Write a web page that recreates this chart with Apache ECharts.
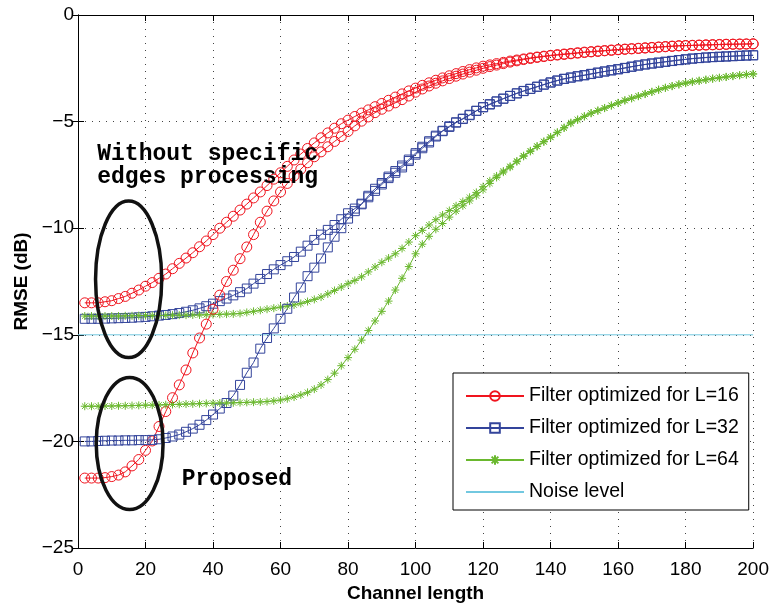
<!DOCTYPE html>
<html>
<head>
<meta charset="utf-8">
<script src="https://cdn.jsdelivr.net/npm/echarts@6.0.0/dist/echarts.min.js"></script>
<style>
html, body { margin: 0; padding: 0; background: #fff; }
#chart { width: 772px; height: 608px; }
</style>
</head>
<body>
<div id="chart"></div>
<script>
// channel lengths where the curves were sampled (every 2 taps)
var channelLength = [];
for (var i = 1; i <= 100; i++) {
    channelLength.push(2 * i);
}

// RMSE (dB), without specific edges processing
var l16Without = [
    -13.5, -13.5, -13.5, -13.45, -13.4, -13.3, -13.2, -13.05, -12.9, -12.72,
    -12.55, -12.35, -12.15, -11.9, -11.65, -11.4, -11.15, -10.87, -10.6, -10.3,
    -10.0, -9.72, -9.44, -9.15, -8.87, -8.58, -8.3, -8.0, -7.7, -7.4,
    -7.1, -6.8, -6.52, -6.26, -6.0, -5.76, -5.53, -5.31, -5.1, -4.93,
    -4.76, -4.6, -4.45, -4.3, -4.15, -4.0, -3.85, -3.7, -3.56, -3.43,
    -3.3, -3.18, -3.06, -2.95, -2.85, -2.75, -2.65, -2.56, -2.48, -2.4,
    -2.34, -2.28, -2.22, -2.16, -2.11, -2.06, -2.01, -1.97, -1.93, -1.89,
    -1.86, -1.83, -1.8, -1.77, -1.74, -1.72, -1.69, -1.67, -1.64, -1.62,
    -1.6, -1.58, -1.56, -1.54, -1.52, -1.5, -1.48, -1.46, -1.44, -1.43,
    -1.42, -1.41, -1.4, -1.39, -1.38, -1.37, -1.37, -1.36, -1.36, -1.35
];
var l32Without = [
    -14.25, -14.25, -14.25, -14.24, -14.23, -14.22, -14.21, -14.2, -14.18, -14.16,
    -14.13, -14.1, -14.07, -14.03, -13.98, -13.92, -13.85, -13.76, -13.66, -13.54,
    -13.42, -13.3, -13.15, -13.0, -12.83, -12.6, -12.38, -12.15, -11.93, -11.73,
    -11.55, -11.35, -11.1, -10.82, -10.55, -10.3, -10.08, -9.85, -9.58, -9.3,
    -9.08, -8.85, -8.55, -8.25, -7.95, -7.65, -7.4, -7.15, -6.85, -6.55,
    -6.25, -5.98, -5.7, -5.45, -5.25, -5.05, -4.88, -4.7, -4.5, -4.33,
    -4.2, -4.06, -3.93, -3.8, -3.68, -3.57, -3.47, -3.37, -3.27, -3.17,
    -3.08, -3.0, -2.94, -2.88, -2.83, -2.77, -2.71, -2.65, -2.6, -2.55,
    -2.49, -2.43, -2.37, -2.32, -2.28, -2.24, -2.2, -2.16, -2.12, -2.08,
    -2.05, -2.02, -2.0, -1.98, -1.96, -1.95, -1.93, -1.92, -1.9, -1.89
];
var l64Without = [
    -14.12, -14.12, -14.12, -14.12, -14.12, -14.12, -14.11, -14.11, -14.1, -14.1,
    -14.1, -14.09, -14.09, -14.08, -14.08, -14.08, -14.07, -14.07, -14.06, -14.05,
    -14.04, -14.03, -14.02, -14.0, -13.95, -13.9, -13.85, -13.8, -13.75, -13.7,
    -13.65, -13.6, -13.53, -13.44, -13.34, -13.23, -13.08, -12.92, -12.76, -12.6,
    -12.45, -12.28, -12.05, -11.82, -11.6, -11.4, -11.2, -10.95, -10.65, -10.35,
    -10.1, -9.85, -9.6, -9.38, -9.17, -8.95, -8.75, -8.55, -8.32, -8.05,
    -7.78, -7.55, -7.32, -7.1, -6.85, -6.6, -6.37, -6.15, -5.93, -5.72,
    -5.5, -5.28, -5.05, -4.9, -4.75, -4.6, -4.48, -4.36, -4.24, -4.12,
    -4.0, -3.9, -3.8, -3.7, -3.6, -3.5, -3.41, -3.33, -3.25, -3.19,
    -3.13, -3.08, -3.03, -2.98, -2.94, -2.9, -2.86, -2.82, -2.79, -2.76
];

// RMSE (dB), proposed method
var l16Proposed = [
    -21.72, -21.72, -21.72, -21.7, -21.65, -21.58, -21.43, -21.15, -20.85, -20.42,
    -19.98, -19.3, -18.6, -17.95, -17.35, -16.65, -15.85, -15.15, -14.5, -13.8,
    -13.14, -12.5, -11.97, -11.43, -10.88, -10.3, -9.72, -9.2, -8.72, -8.3,
    -7.9, -7.55, -7.23, -6.93, -6.65, -6.42, -6.18, -5.93, -5.7, -5.46,
    -5.2, -4.98, -4.78, -4.58, -4.42, -4.27, -4.12, -3.97, -3.8, -3.62,
    -3.47, -3.33, -3.2, -3.09, -2.98, -2.87, -2.77, -2.68, -2.59, -2.5,
    -2.42, -2.35, -2.28, -2.21, -2.15, -2.09, -2.04, -1.99, -1.95, -1.91,
    -1.88, -1.85, -1.82, -1.79, -1.76, -1.73, -1.71, -1.68, -1.66, -1.63,
    -1.61, -1.59, -1.57, -1.55, -1.53, -1.51, -1.49, -1.47, -1.45, -1.44,
    -1.43, -1.42, -1.41, -1.4, -1.39, -1.38, -1.37, -1.37, -1.36, -1.36
];
var l32Proposed = [
    -20.0, -20.0, -19.98, -19.97, -19.96, -19.96, -19.95, -19.95, -19.94, -19.94,
    -19.93, -19.9, -19.84, -19.77, -19.68, -19.55, -19.4, -19.22, -19.0, -18.74,
    -18.46, -18.2, -17.85, -17.35, -16.78, -16.3, -15.65, -15.15, -14.7, -14.25,
    -13.78, -13.25, -12.78, -12.25, -11.85, -11.42, -10.9, -10.4, -10.0, -9.55,
    -9.2, -8.88, -8.48, -8.15, -7.88, -7.58, -7.32, -7.06, -6.78, -6.48,
    -6.18, -5.92, -5.66, -5.43, -5.22, -5.03, -4.86, -4.68, -4.49, -4.32,
    -4.18, -4.05, -3.92, -3.79, -3.67, -3.56, -3.46, -3.36, -3.26, -3.16,
    -3.07, -2.99, -2.93, -2.87, -2.82, -2.76, -2.7, -2.65, -2.59, -2.54,
    -2.48, -2.42, -2.37, -2.32, -2.27, -2.23, -2.19, -2.15, -2.11, -2.08,
    -2.04, -2.02, -1.99, -1.97, -1.96, -1.94, -1.93, -1.91, -1.9, -1.89
];
var l64Proposed = [
    -18.35, -18.35, -18.35, -18.34, -18.34, -18.33, -18.33, -18.32, -18.31, -18.3,
    -18.3, -18.29, -18.28, -18.27, -18.26, -18.25, -18.24, -18.23, -18.22, -18.21,
    -18.2, -18.2, -18.19, -18.18, -18.17, -18.16, -18.15, -18.13, -18.1, -18.06,
    -18.0, -17.92, -17.82, -17.7, -17.55, -17.35, -17.1, -16.8, -16.45, -16.07,
    -15.68, -15.25, -14.8, -14.35, -13.9, -13.42, -12.9, -12.35, -11.8, -11.2,
    -10.75, -10.38, -10.05, -9.78, -9.48, -9.2, -8.95, -8.72, -8.48, -8.2,
    -7.9, -7.62, -7.37, -7.14, -6.88, -6.63, -6.4, -6.17, -5.95, -5.74,
    -5.52, -5.3, -5.08, -4.92, -4.76, -4.61, -4.49, -4.37, -4.25, -4.13,
    -4.01, -3.91, -3.81, -3.71, -3.61, -3.51, -3.42, -3.34, -3.26, -3.2,
    -3.14, -3.09, -3.04, -2.99, -2.95, -2.91, -2.87, -2.83, -2.8, -2.77
];

var noiseLevel = -15;
var noiseSpan = [0, 200];

var seriesNames = [
    'Filter optimized for L=16',
    'Filter optimized for L=32',
    'Filter optimized for L=64',
    'Noise level'
];

var xTicks = { min: 0, max: 200, step: 20 };
var yTicks = { min: -25, max: 0, step: 5 };

// annotations, in data units: [cx, cy, rx, ry]
var ellipseWithout = [15, -12.4, 9.8, 3.67];
var ellipseProposed = [15.3, -20.1, 9.9, 3.1];
var noteWithout = { text: 'Without specific\nedges processing', at: [5.7, -6.0] };
var noteProposed = { text: 'Proposed', at: [30.7, -21.25] };

var FONT = '"Liberation Sans", Arial, Helvetica, sans-serif';
var MONO = '"Liberation Mono", "Courier New", monospace';
var RED = '#f0141e';
var BLUE = '#33449b';
var GREEN = '#6ab82e';
var CYAN = '#72c8e0';
var STAR = 'path://M5,0L5,10M0,5L10,5M1.5,1.5L8.5,8.5M1.5,8.5L8.5,1.5';

function pairs(ys) {
    return channelLength.map(function (x, k) {
        return [x, ys[k]];
    });
}

function minusSign(v) {
    return String(v).replace('-', '\u2212');
}

function filterSeries(name, ys, color, symbol, size) {
    return {
        name: name,
        type: 'line',
        data: pairs(ys),
        symbol: symbol,
        symbolSize: size,
        symbolKeepAspect: true,
        showAllSymbol: true,
        lineStyle: { color: color, width: 1 },
        itemStyle: { color: 'rgba(0,0,0,0)', borderColor: color, borderWidth: 1 },
        emphasis: { disabled: true },
        animation: false
    };
}

var chart = echarts.init(document.getElementById('chart'), null, { renderer: 'canvas' });

var boxAxis = {
    axisLine: { show: true, lineStyle: { color: '#000', width: 1 } },
    axisTick: { show: true, inside: true, length: 6, lineStyle: { color: '#000' } },
    axisLabel: { show: false },
    splitLine: { show: false }
};

var option = {
    backgroundColor: '#fff',
    animation: false,
    grid: { left: 78, right: 18, top: 15, bottom: 60, containLabel: false },
    legend: {
        data: [
            seriesNames[0],
            seriesNames[1],
            seriesNames[2],
            { name: seriesNames[3], itemStyle: { opacity: 0 } }
        ],
        orient: 'vertical',
        left: 453,
        top: 373,
        padding: [13, 10, 8, 12],
        itemGap: 12,
        itemWidth: 58,
        itemHeight: 12,
        backgroundColor: '#fff',
        borderColor: '#000',
        borderWidth: 1,
        borderRadius: 0,
        selectedMode: false,
        textStyle: { fontFamily: FONT, fontSize: 19.5, color: '#000', lineHeight: 19 }
    },
    xAxis: [
        {
            type: 'value',
            min: xTicks.min,
            max: xTicks.max,
            interval: xTicks.step,
            name: 'Channel length',
            nameLocation: 'middle',
            nameGap: 35,
            nameTextStyle: { fontFamily: FONT, fontSize: 19, fontWeight: 'bold', color: '#000' },
            axisLine: { show: true, onZero: false, lineStyle: { color: '#000', width: 1 } },
            axisTick: { show: true, inside: true, length: 6, lineStyle: { color: '#000' } },
            axisLabel: { fontFamily: FONT, fontSize: 19, color: '#000', margin: 12 },
            splitLine: { show: true, lineStyle: { color: '#444', type: [1, 6], width: 1 } }
        },
        Object.assign({ type: 'value', position: 'top', min: xTicks.min, max: xTicks.max, interval: xTicks.step }, boxAxis)
    ],
    yAxis: [
        {
            type: 'value',
            min: yTicks.min,
            max: yTicks.max,
            interval: yTicks.step,
            name: 'RMSE (dB)',
            nameLocation: 'middle',
            nameGap: 43,
            nameTextStyle: { fontFamily: FONT, fontSize: 19, fontWeight: 'bold', color: '#000' },
            axisLine: { show: true, onZero: false, lineStyle: { color: '#000', width: 1 } },
            axisTick: { show: true, inside: true, length: 6, lineStyle: { color: '#000' } },
            axisLabel: { fontFamily: FONT, fontSize: 19, color: '#000', margin: 4, formatter: minusSign },
            splitLine: { show: true, lineStyle: { color: '#444', type: [1, 6], width: 1 } }
        },
        Object.assign({ type: 'value', position: 'right', min: yTicks.min, max: yTicks.max, interval: yTicks.step }, boxAxis)
    ],
    series: [
        {
            name: seriesNames[3],
            type: 'line',
            data: noiseSpan.map(function (x) { return [x, noiseLevel]; }),
            symbol: 'none',
            lineStyle: { color: CYAN, width: 1 },
            itemStyle: { color: CYAN },
            emphasis: { disabled: true },
            animation: false
        },
        filterSeries(seriesNames[0], l16Without, RED, 'circle', 10),
        filterSeries(seriesNames[1], l32Without, BLUE, 'rect', 9),
        filterSeries(seriesNames[2], l64Without, GREEN, STAR, 8),
        filterSeries(seriesNames[0], l16Proposed, RED, 'circle', 10),
        filterSeries(seriesNames[1], l32Proposed, BLUE, 'rect', 9),
        filterSeries(seriesNames[2], l64Proposed, GREEN, STAR, 8)
    ]
};

chart.setOption(option);

// ellipses and notes placed through the axes
function toPx(p) {
    return chart.convertToPixel({ xAxisIndex: 0, yAxisIndex: 0 }, p);
}

function ellipse(e) {
    var c = toPx([e[0], e[1]]);
    var corner = toPx([e[0] + e[2], e[1] + e[3]]);
    return {
        type: 'ellipse',
        z: 100,
        shape: { cx: c[0], cy: c[1], rx: corner[0] - c[0], ry: c[1] - corner[1] },
        style: { fill: null, stroke: '#111', lineWidth: 3.5 }
    };
}

function note(n) {
    var p = toPx(n.at);
    return {
        type: 'text',
        z: 100,
        x: p[0],
        y: p[1],
        style: {
            text: n.text,
            font: 'bold 23px ' + MONO,
            fill: '#000',
            lineHeight: 23,
            verticalAlign: 'top'
        }
    };
}

chart.setOption({
    graphic: [ellipse(ellipseWithout), ellipse(ellipseProposed), note(noteWithout), note(noteProposed)]
});
</script>
</body>
</html>
